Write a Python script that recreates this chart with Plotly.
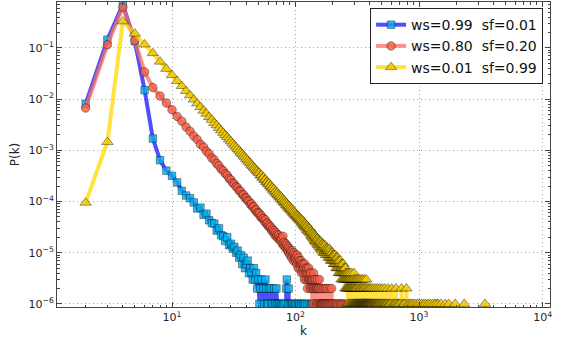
import numpy as np
import plotly.graph_objects as go

# ---------------- data (P(k)) ----------------
K_START = 2  # first degree in each dense list; entries are P(2), P(3), ...

series_names = ["ws=0.99  sf=0.01", "ws=0.80  sf=0.20", "ws=0.01  sf=0.99"]

blue_p = [8.1e-3, 1.45e-1, 7.0e-1, 1.35e-1, 1.5e-2, 1.7e-3, 640e-6, 400e-6, 318e-6,
          236e-6, 162e-6, 131e-6, 116e-6, 96e-6, 73e-6, 76e-6, 55e-6, 58e-6, 43e-6,
          38e-6, 37e-6, 27e-6, 30e-6, 22e-6, 21e-6, 17e-6, 20e-6, 14e-6, 15e-6,
          12e-6, 13e-6, 10e-6, 11e-6, 8e-6, 9e-6, 6e-6, 8e-6, 5e-6, 6e-6,
          7e-6, 4e-6, 5e-6, 4e-6, 3e-6, 5e-6, 3e-6, 4e-6, 2e-6, 3e-6,
          1e-6, 2e-6, 3e-6, 0, 2e-6, 1e-6, 3e-6, 2e-6, 1e-6, 1e-6]
blue_tail_k1 = [64, 65, 68, 69, 71, 73, 74, 76, 77, 79, 80, 82, 87, 90, 92, 94, 95, 98,
                100, 102, 105, 107, 110, 112, 115, 117, 120, 125, 130, 135, 138]
blue_tail_k2 = [61, 63, 67, 70, 84, 88]
blue_tail_k3 = [85]

salmon_p = [6.7e-3, 1.15e-1, 6.3e-1, 1.4e-1, 3.4e-2, 1.68e-2, 1.15e-2, 8.4e-3, 6.2e-3,
            4.6e-3, 3.70e-3, 2.85e-3, 2.36e-3, 1.90e-3, 1.62e-3, 1.31e-3, 1.16e-3, 9.6e-4, 8.5e-4,
            7.1e-4, 6.5e-4, 5.5e-4, 5.0e-4, 4.3e-4, 4.0e-4, 3.5e-4, 3.25e-4, 2.8e-4, 2.65e-4,
            2.3e-4, 2.2e-4, 1.95e-4, 1.85e-4, 1.62e-4, 1.58e-4, 1.38e-4, 1.35e-4, 1.18e-4, 1.17e-4,
            104e-6, 101e-6, 88e-6, 90e-6, 78e-6, 79e-6, 68e-6, 69e-6, 60e-6, 61e-6,
            58e-6, 50e-6, 53e-6, 46e-6, 47e-6, 41e-6, 44e-6, 37e-6, 38e-6, 33e-6,
            35e-6, 31e-6, 32e-6, 27e-6, 29e-6, 25e-6, 27e-6, 22e-6, 25e-6, 21e-6,
            23e-6, 19e-6, 22e-6, 18e-6, 20e-6, 17e-6, 19e-6, 15e-6, 21e-6, 14e-6,
            16e-6, 13e-6, 15e-6, 12e-6, 14e-6, 11e-6, 13e-6, 10e-6, 12e-6, 9e-6,
            11e-6, 10e-6, 8e-6, 11e-6, 9e-6, 7e-6, 10e-6, 8e-6, 9e-6, 7e-6,
            8e-6, 6e-6, 9e-6, 7e-6, 5e-6, 8e-6, 6e-6, 7e-6, 5e-6, 6e-6,
            7e-6, 4e-6, 6e-6, 5e-6, 6e-6, 4e-6, 5e-6, 3e-6, 6e-6, 4e-6,
            5e-6, 3e-6, 4e-6, 5e-6, 2e-6, 4e-6, 3e-6, 5e-6, 3e-6, 4e-6,
            3e-6, 2e-6, 4e-6, 3e-6, 2e-6, 3e-6, 1e-6, 3e-6, 2e-6, 4e-6,
            2e-6, 3e-6, 1e-6, 2e-6, 3e-6, 0, 2e-6, 1e-6, 2e-6, 3e-6,
            1e-6, 2e-6, 0, 2e-6, 1e-6, 3e-6, 1e-6, 0, 2e-6, 1e-6]
salmon_tail_k1 = [162, 164, 165, 167, 170, 172, 175, 177, 181, 184, 186, 190, 193, 197,
                  201, 206, 210, 214, 219, 225, 231, 236, 243, 250, 258, 266, 274, 283,
                  292, 305, 318, 331, 347, 362, 380, 401, 425, 452, 488, 530, 590, 660,
                  760, 1380]
salmon_tail_k2 = [163, 169, 174, 179, 188, 196]

yellow_p = [9.5e-5, 1.45e-3, 3.3e-1, 1.9e-1, 1.17e-1, 7.9e-2, 5.4e-2, 3.9e-2, 2.95e-2,
            2.26e-2, 1.80e-2, 1.44e-2, 1.19e-2, 9.8e-3, 8.2e-3, 7.0e-3, 5.95e-3, 5.2e-3, 4.45e-3,
            3.95e-3, 3.43e-3, 3.08e-3, 2.72e-3, 2.45e-3, 2.19e-3, 1.98e-3, 1.80e-3, 1.63e-3, 1.49e-3,
            1.36e-3, 1.25e-3, 1.15e-3, 1.06e-3, 9.8e-4, 9.0e-4, 8.4e-4, 7.8e-4, 7.3e-4, 6.8e-4,
            6.35e-4, 5.95e-4, 5.6e-4, 5.2e-4, 4.95e-4, 4.6e-4, 4.4e-4, 4.1e-4, 3.95e-4, 3.7e-4,
            358e-6, 322e-6, 327e-6, 291e-6, 297e-6, 262e-6, 268e-6, 238e-6, 244e-6, 219e-6,
            224e-6, 198e-6, 205e-6, 181e-6, 188e-6, 166e-6, 175e-6, 153e-6, 160e-6, 141e-6,
            149e-6, 131e-6, 138e-6, 121e-6, 128e-6, 113e-6, 120e-6, 105e-6, 111e-6, 97e-6,
            104e-6, 92e-6, 97e-6, 85e-6, 91e-6, 80e-6, 86e-6, 75e-6, 81e-6, 71e-6,
            76e-6, 67e-6, 72e-6, 63e-6, 68e-6, 59e-6, 64e-6, 56e-6, 61e-6, 53e-6,
            57e-6, 51e-6, 54e-6, 48e-6, 52e-6, 46e-6, 49e-6, 44e-6, 47e-6, 42e-6,
            45e-6, 39e-6, 43e-6, 37e-6, 41e-6, 35e-6, 39e-6, 33e-6, 37e-6, 32e-6,
            36e-6, 30e-6, 34e-6, 28e-6, 33e-6, 27e-6, 31e-6, 26e-6, 30e-6, 25e-6,
            29e-6, 24e-6, 27e-6, 22e-6, 26e-6, 21e-6, 25e-6, 20e-6, 24e-6, 19e-6,
            23e-6, 18e-6, 22e-6, 17e-6, 21e-6, 16e-6, 20e-6, 17e-6, 19e-6, 15e-6,
            19e-6, 14e-6, 18e-6, 15e-6, 17e-6, 13e-6, 16e-6, 14e-6, 17e-6, 12e-6,
            16e-6, 12e-6, 15e-6, 11e-6, 14e-6, 13e-6, 15e-6, 10e-6, 14e-6, 12e-6,
            13e-6, 10e-6, 14e-6, 11e-6, 12e-6, 9e-6, 13e-6, 10e-6, 12e-6, 11e-6,
            12e-6, 9e-6, 11e-6, 10e-6, 8e-6, 11e-6, 9e-6, 12e-6, 8e-6, 10e-6,
            9e-6, 11e-6, 7e-6, 10e-6, 8e-6, 9e-6, 7e-6, 10e-6, 8e-6, 9e-6,
            7e-6, 9e-6, 8e-6, 6e-6, 9e-6, 7e-6, 8e-6, 6e-6, 7e-6, 9e-6,
            6e-6, 8e-6, 7e-6, 5e-6, 8e-6, 6e-6, 7e-6, 5e-6, 6e-6, 8e-6,
            5e-6, 7e-6, 6e-6, 4e-6, 7e-6, 5e-6, 6e-6, 4e-6, 6e-6, 5e-6,
            7e-6, 4e-6, 5e-6, 6e-6, 3e-6, 5e-6, 4e-6, 6e-6, 4e-6, 5e-6,
            3e-6, 5e-6, 4e-6, 6e-6, 3e-6, 4e-6, 5e-6, 3e-6, 4e-6, 5e-6,
            3e-6, 4e-6, 2e-6, 5e-6, 3e-6, 4e-6, 3e-6, 2e-6, 4e-6, 3e-6]
yellow_tail_k4 = [262, 268, 275, 284, 297]
yellow_tail_k3 = [264, 266, 271, 273, 278, 281, 287, 290, 294, 301, 306, 312, 318, 325,
                  333, 342, 351, 362, 374]
yellow_tail_k2 = [261, 263, 267, 270, 272, 276, 279, 282, 285, 288, 292, 295, 299, 303,
                  308, 310, 315, 321, 328, 336, 339, 346, 355, 359, 367, 378, 386, 395,
                  404, 417, 430, 446, 463, 481, 502, 527, 560, 600, 650, 720, 790]
yellow_tail_k1 = [265, 269, 274, 277, 280, 283, 286, 289, 291, 293, 296, 298, 300, 302,
                  304, 305, 307, 309, 311, 313, 314, 316, 317, 319, 320, 322, 323, 324,
                  326, 327, 329, 330, 331, 332, 334, 335, 337, 338, 340, 341, 343, 344,
                  345, 347, 348, 349, 350, 352, 353, 354, 356, 357, 358, 360, 361, 363,
                  364, 365, 366, 368, 369, 370, 371, 372, 373, 375, 376, 377, 379, 380,
                  381, 383, 384, 385, 387, 389, 390, 392, 393, 396, 398, 399, 401, 403,
                  406, 408, 410, 412, 414, 416, 419, 421, 424, 426, 428, 433, 436, 439,
                  441, 444, 449, 452, 455, 458, 461, 466, 470, 473, 477, 485, 489, 494,
                  498, 507, 512, 518, 523, 532, 538, 545, 552, 566, 573, 581, 590, 611,
                  622, 635, 643, 662, 675, 690, 705, 735, 752, 770, 808, 830, 856, 880,
                  905, 940, 975, 1010, 1050, 1090, 1130, 1180, 1230, 1290, 1350, 1420,
                  1510, 1630, 1740, 1960, 2320, 3420]

tail_levels = [1e-6, 2e-6, 3e-6, 4e-6]

x_tick_vals = [10, 100, 1000, 10000]
x_tick_text = ["10<sup>1</sup>", "10<sup>2</sup>", "10<sup>3</sup>", "10<sup>4</sup>"]
y_tick_vals = [1e-6, 1e-5, 1e-4, 1e-3, 1e-2, 1e-1]
y_tick_text = ["10<sup>\u22126</sup>", "10<sup>\u22125</sup>", "10<sup>\u22124</sup>",
               "10<sup>\u22123</sup>", "10<sup>\u22122</sup>", "10<sup>\u22121</sup>"]


def build(p_dense, tails):
    """Full degree distribution: listed values, zero for every unlisted k."""
    kmax = K_START + len(p_dense) - 1
    for ks in tails.values():
        if ks:
            kmax = max(kmax, max(ks))
    k = np.arange(K_START, kmax + 1)
    p = np.zeros(len(k))
    p[:len(p_dense)] = p_dense
    for level, ks in tails.items():
        for kk in ks:
            p[kk - K_START] = level
    return k, p


ZERO_FLOOR = 1e-12  # like matplotlib's log "clip": zero counts drop off the bottom

series = [
    (blue_p, {tail_levels[0]: blue_tail_k1, tail_levels[1]: blue_tail_k2, tail_levels[2]: blue_tail_k3},
     "rgba(20,20,255,0.75)", "rgba(0,175,240,0.8)", "square", 7.5),
    (salmon_p, {tail_levels[0]: salmon_tail_k1, tail_levels[1]: salmon_tail_k2},
     "rgba(250,110,95,0.75)", "rgba(245,95,70,0.8)", "circle", 8.5),
    (yellow_p, {tail_levels[0]: yellow_tail_k1, tail_levels[1]: yellow_tail_k2,
                tail_levels[2]: yellow_tail_k3, tail_levels[3]: yellow_tail_k4},
     "rgba(255,215,0,0.75)", "rgba(240,200,0,0.85)", "triangle-up", 10),
]

fig = go.Figure()
for name, (pd_, tails, lcol, mcol, sym, msize) in zip(series_names, series):
    k, p = build(pd_, tails)
    y = np.where(p > 0, p, ZERO_FLOOR)
    fig.add_trace(go.Scatter(
        x=k, y=y, name=name, mode="lines+markers",
        line=dict(color=lcol, width=4),
        marker=dict(symbol=sym, size=msize, color=mcol,
                    line=dict(color="rgba(0,0,0,0.55)", width=0.7)),
        cliponaxis=True,
    ))

minor_x = [m * 10 ** e for e in range(0, 4) for m in range(2, 10)]
minor_y = [m * 10.0 ** e for e in range(-7, 0) for m in range(2, 10)]

axis_common = dict(
    type="log", showline=True, linecolor="#444", linewidth=1, mirror="allticks",
    ticks="inside", ticklen=5, tickwidth=1, tickcolor="#444",
    showgrid=True, gridcolor="#a8a8a8", griddash="1px,3px", gridwidth=1,
    zeroline=False, tickfont=dict(family="DejaVu Sans", size=11, color="#222"),
    tickmode="array", automargin=False,
)

fig.update_xaxes(
    **axis_common, range=[0.069, 4.06],
    tickvals=x_tick_vals, ticktext=x_tick_text,
    minor=dict(ticks="inside", ticklen=2.5, tickcolor="#444", tickmode="array",
               tickvals=minor_x, showgrid=False),
    title=dict(text="k", font=dict(family="DejaVu Sans", size=12, color="#222"), standoff=2),
)
fig.update_yaxes(
    **axis_common, range=[-6.06, -0.103],
    tickvals=y_tick_vals, ticktext=y_tick_text,
    minor=dict(ticks="inside", ticklen=2.5, tickcolor="#444", tickmode="array",
               tickvals=minor_y, showgrid=False),
    title=dict(text="P(k)", font=dict(family="DejaVu Sans", size=12, color="#222"), standoff=6),
)

fig.update_layout(
    width=562, height=343,
    margin=dict(l=57, r=12, t=2, b=36, autoexpand=False),
    paper_bgcolor="white", plot_bgcolor="white",
    font=dict(family="DejaVu Sans", color="#222"),
    legend=dict(x=0.986, y=0.98, xanchor="right", yanchor="top",
                bgcolor="white", bordercolor="#222", borderwidth=1,
                font=dict(family="DejaVu Sans", size=14, color="#111"),
                itemwidth=30, tracegroupgap=0),
    showlegend=True,
)

fig.write_html("out.html", config={"displayModeBar": False},
               post_script="document.body.style.margin='0';document.body.style.overflow='hidden';")
